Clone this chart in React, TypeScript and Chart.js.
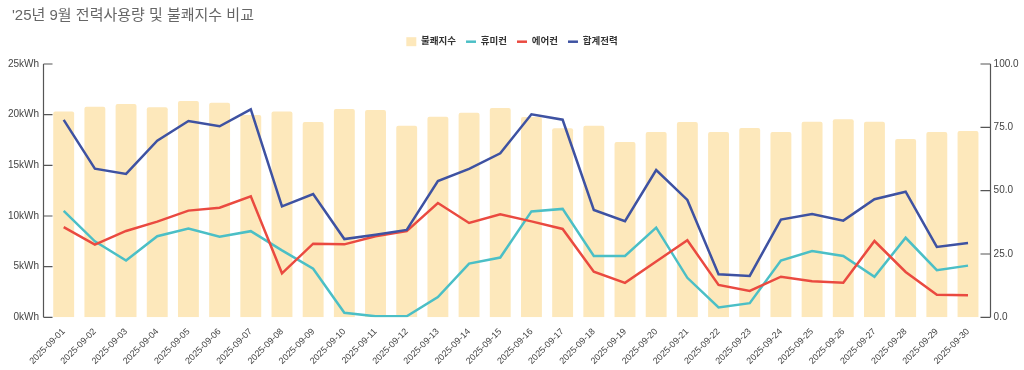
import React, { useEffect, useRef } from 'react';
import { Chart, registerables } from 'chart.js';

Chart.register(...registerables);

const dates = [
  '2025-09-01', '2025-09-02', '2025-09-03', '2025-09-04', '2025-09-05',
  '2025-09-06', '2025-09-07', '2025-09-08', '2025-09-09', '2025-09-10',
  '2025-09-11', '2025-09-12', '2025-09-13', '2025-09-14', '2025-09-15',
  '2025-09-16', '2025-09-17', '2025-09-18', '2025-09-19', '2025-09-20',
  '2025-09-21', '2025-09-22', '2025-09-23', '2025-09-24', '2025-09-25',
  '2025-09-26', '2025-09-27', '2025-09-28', '2025-09-29', '2025-09-30',
];

// 불쾌지수 (right axis)
const discomfortIndex = [
  81.2, 83.1, 84.2, 82.9, 85.4, 84.7, 79.9, 81.2, 77.1, 82.2,
  81.8, 75.6, 79.2, 80.8, 82.6, 79.1, 74.6, 75.6, 69.2, 73.2,
  77.1, 73.2, 74.7, 73.2, 77.2, 78.2, 77.2, 70.4, 73.2, 73.5,
];

// 휴미컨 (kWh)
const humidifierKWh = [
  10.5, 7.5, 5.6, 8.0, 8.75, 7.95, 8.5, 6.6, 4.8, 0.45,
  0.1, 0.1, 2.0, 5.3, 5.9, 10.45, 10.7, 6.05, 6.05, 8.85,
  3.9, 0.97, 1.4, 5.6, 6.55, 6.05, 4.0, 7.85, 4.65, 5.1,
];

// 에어컨 (kWh)
const airconKWh = [
  8.9, 7.17, 8.52, 9.44, 10.53, 10.82, 11.94, 4.34, 7.27, 7.2,
  8.0, 8.5, 11.28, 9.31, 10.17, 9.47, 8.72, 4.5, 3.4, 5.5,
  7.6, 3.19, 2.6, 4.01, 3.55, 3.42, 7.53, 4.47, 2.23, 2.17,
];

// 합계전력 (kWh)
const totalKWh = [
  19.48, 14.67, 14.15, 17.44, 19.38, 18.85, 20.53, 10.95, 12.17, 7.72,
  8.15, 8.62, 13.45, 14.64, 16.18, 20.04, 19.5, 10.59, 9.48, 14.54,
  11.58, 4.24, 4.08, 9.64, 10.2, 9.54, 11.65, 12.4, 6.94, 7.33,
];

const leftTicks = [0, 5, 10, 15, 20, 25];
const rightTicks = [0, 25, 50, 75, 100];

const FONT = "'Liberation Sans', 'Noto Sans CJK KR', sans-serif";
const BAR = '#fde8bb';
const TEAL = '#4bbfc6';
const RED = '#ea4a40';
const BLUE = '#3e52a2';

export default function App() {
  const ref = useRef<HTMLCanvasElement>(null);

  useEffect(() => {
    if (!ref.current) return;

    const legendSpacer = {
      id: 'legendSpacer',
      beforeLayout(chart: any) {
        const l = chart.legend;
        if (l && !l.__patched) {
          const orig = l.fit;
          l.fit = function () {
            orig.call(this);
            this.height += 7.55;
          };
          l.__patched = true;
        }
      },
      afterLayout(chart: any) {
        const t = chart.titleBlock;
        if (t) {
          t.left = 12;
        }
      },
    };

    const axisLines = {
      id: 'axisLines',
      afterDraw(chart: any) {
        const { ctx, chartArea } = chart;
        const yL = chart.scales.y;
        const yR = chart.scales.y1;
        ctx.save();
        ctx.strokeStyle = '#555';
        ctx.lineWidth = 1.2;
        const lx = Math.round(chartArea.left - 5) + 0.5;
        const rx = Math.round(chartArea.right + 6) + 0.5;
        ctx.beginPath();
        ctx.moveTo(lx, yL.getPixelForValue(leftTicks[leftTicks.length - 1]));
        ctx.lineTo(lx, yL.getPixelForValue(leftTicks[0]));
        leftTicks.forEach((v) => {
          const py = yL.getPixelForValue(v);
          ctx.moveTo(lx, py);
          ctx.lineTo(lx + 9, py);
        });
        ctx.moveTo(rx, yR.getPixelForValue(rightTicks[rightTicks.length - 1]));
        ctx.lineTo(rx, yR.getPixelForValue(rightTicks[0]));
        rightTicks.forEach((v) => {
          const py = yR.getPixelForValue(v);
          ctx.moveTo(rx, py);
          ctx.lineTo(rx - 10, py);
        });
        ctx.stroke();
        ctx.restore();
      },
    };

    const chart = new Chart(ref.current, {
      type: 'bar',
      data: {
        labels: dates,
        datasets: [
          {
            type: 'bar',
            label: '불쾌지수',
            data: discomfortIndex,
            yAxisID: 'y1',
            backgroundColor: BAR,
            borderWidth: 0,
            borderRadius: 2,
            barPercentage: 0.67,
            categoryPercentage: 1,
            order: 10,
          },
          {
            type: 'line',
            label: '휴미컨',
            data: humidifierKWh,
            yAxisID: 'y',
            borderColor: TEAL,
            backgroundColor: TEAL,
            borderWidth: 2.5,
            pointRadius: 0,
            tension: 0,
            order: 3,
          },
          {
            type: 'line',
            label: '에어컨',
            data: airconKWh,
            yAxisID: 'y',
            borderColor: RED,
            backgroundColor: RED,
            borderWidth: 2.5,
            pointRadius: 0,
            tension: 0,
            order: 2,
          },
          {
            type: 'line',
            label: '합계전력',
            data: totalKWh,
            yAxisID: 'y',
            borderColor: BLUE,
            backgroundColor: BLUE,
            borderWidth: 2.5,
            pointRadius: 0,
            tension: 0,
            order: 1,
          },
        ],
      } as any,
      options: {
        responsive: false,
        animation: false,
        layout: { padding: 0 },
        plugins: {
          title: {
            display: true,
            text: "'25년 9월 전력사용량 및 불쾌지수 비교",
            align: 'start',
            color: '#666',
            font: { family: FONT, size: 15, weight: 'normal' },
            padding: { top: 6.8, bottom: 2.15 },
          },
          legend: {
            display: true,
            position: 'top',
            labels: {
              usePointStyle: true,
              pointStyleWidth: 10,
              boxHeight: 9,
              padding: 10,
              color: '#333',
              font: { family: FONT, size: 9.5, weight: 'bold' },
              generateLabels: (chart: any) =>
                chart.data.datasets.map((ds: any, i: number) => ({
                  text: ds.label,
                  datasetIndex: i,
                  fillStyle: ds.type === 'bar' ? BAR : ds.borderColor,
                  strokeStyle: ds.type === 'bar' ? BAR : ds.borderColor,
                  lineWidth: ds.type === 'bar' ? 0 : 2.5,
                  pointStyle: ds.type === 'bar' ? 'rect' : 'line',
                  hidden: false,
                  fontColor: '#333',
                })),
            },
          },
          tooltip: { enabled: false },
        },
        scales: {
          x: {
            offset: true,
            grid: { display: false },
            border: { display: false },
            ticks: {
              autoSkip: false,
              maxRotation: 45,
              minRotation: 45,
              padding: 1,
              color: '#444',
              font: { family: FONT, size: 9 },
            },
            afterFit: (scale: any) => {
              scale.height = 52.7;
            },
          },
          y: {
            position: 'left',
            min: 0,
            max: 25,
            grid: { display: false, drawTicks: false },
            border: { display: false },
            ticks: {
              stepSize: 5,
              padding: 9,
              color: '#444',
              font: { family: FONT, size: 10 },
              callback: (v: any) => `${v}kWh`,
            },
            afterFit: (scale: any) => {
              scale.width = 48.1;
            },
          },
          y1: {
            position: 'right',
            min: 0,
            max: 100,
            grid: { display: false, drawTicks: false },
            border: { display: false },
            ticks: {
              stepSize: 25,
              padding: 10,
              color: '#444',
              font: { family: FONT, size: 10 },
              callback: (v: any) => Number(v).toFixed(1),
            },
            afterFit: (scale: any) => {
              scale.width = 40.4;
            },
          },
        },
      } as any,
      plugins: [legendSpacer, axisLines],
    });

    return () => chart.destroy();
  }, []);

  return (
    <div style={{ position: 'absolute', left: 0, top: 0, width: 1024, height: 370, background: '#fff' }}>
      <canvas ref={ref} width={1024} height={370} style={{ display: 'block' }} />
    </div>
  );
}
